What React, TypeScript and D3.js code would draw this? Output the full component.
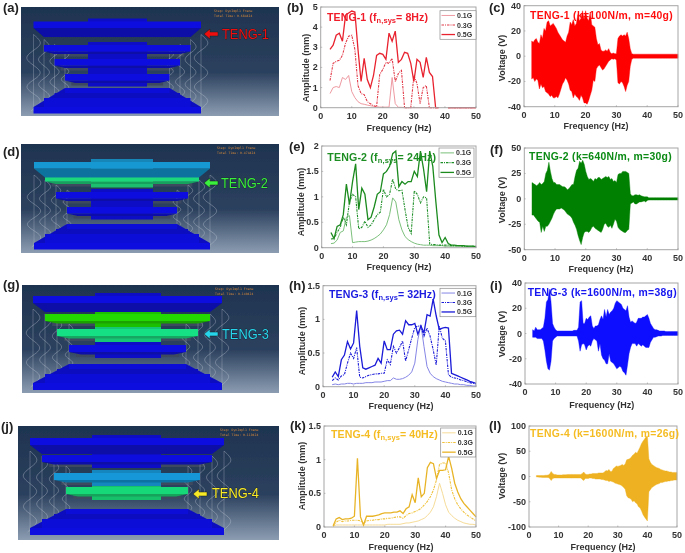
import React from "react";
import * as d3 from "d3";

const freqs = d3.range(3, 51);
const vFreqs = d3.range(2.5, 50.5, 0.5);
const amps = ["0.1G", "0.3G", "0.5G"];

const b01 = [.7,1,1.05,1,1.5,1.4,1.6,.8,.5,.3,.2,.17,.13,.1,.07,.05,.03,.03,.03,.03,1.5,.2,.02,.02,0,0,0,0,0,0,0,0,0,0,0,0,null,null,0,0,0,0,0,0,0,0,0,0];
const b03 = [1.35,2.2,2.3,2.35,2.6,3.2,3.55,3.6,2.9,1.1,.7,.65,.3,.2,.1,.05,1.65,1.9,2.25,2.2,2.45,1.3,1.7,1.85,0,0,0,1.6,1.2,.2,1,1.1,0,0,0,0,null,null,0,0,0,0,0,0,0,0,0,0];
const b05 = [2.9,3.1,3.6,3.7,3.3,4.6,4.7,4.8,4.75,2.9,1.3,2.45,1.4,1,1.6,2.6,2.7,2.65,2.4,3.7,3.3,3.8,2.25,2.4,2.75,2.7,2.2,1.3,2.4,2.25,1.5,2.5,1.75,1.55,0,0,null,null,0,0,0,0,0,0,0,0,0,0];

const e01 = [.08,.09,.15,.3,.33,.6,.63,.1,.11,.12,.12,.12,.13,.15,.18,.22,.27,.35,.45,.65,.98,.9,.55,.35,.22,.16,.12,.09,.07,.06,.05,.05,.05,.04,.04,.04,.04,.03,.03,.03,.03,.03,.03,.02,.02,.02,.02,.02];
const e03 = [.17,.18,.3,.4,.6,.45,.9,1.05,1,.37,.4,.52,.4,.45,.55,.65,.7,1.15,1,1.05,1.35,1.15,1.12,1.13,.75,.4,.28,1.12,1.05,.88,1,.98,.07,.06,.06,.05,.05,.05,.05,.04,.04,.04,.04,.03,.03,.03,.03,.03];
const e05 = [.3,.18,.42,.45,.65,1.25,.85,1.3,1.65,.75,1.17,1.05,.55,.6,.8,1.05,1.1,1.45,1.5,1.6,1.85,1.9,1.2,1.3,1.25,1.3,1.3,1.5,1.4,1.9,1.55,1.1,1.9,1.6,.9,.25,.1,.2,.08,.05,.05,.04,.04,.04,.03,.03,.03,.02];

const h01 = [.03,.04,.03,.04,.04,.05,.05,.04,.05,.05,.05,.06,.06,.06,.07,.07,.07,.08,.09,.09,.13,.11,.11,.12,.14,.17,.22,.35,.7,.92,.6,.3,.2,.15,.12,.1,.08,.07,.06,.05,.04,.04,.03,.03,.02,.02,.01,.01];
const h03 = [.09,.13,.1,.16,.18,.35,.5,.42,.58,.14,.13,.15,.17,.18,.19,.19,.2,.2,.4,.33,.6,.5,.58,.68,.38,.55,.72,.88,.9,.9,.75,.87,.75,.55,.32,.9,.72,.68,.18,.14,.13,.12,.1,.09,.07,.06,.05,.04];
const h05 = [.14,.22,.15,.4,.47,.67,.56,.65,1.13,.6,.28,.26,.28,.3,.32,.42,.35,.68,.55,.55,.78,.83,.84,.78,.98,.92,.92,.94,.78,.9,.8,1.07,1.05,1.3,1.05,.85,.87,.88,.87,.2,.18,.16,.14,.12,.1,.08,.065,.05];

const k01 = [.01,.03,.03,.03,.03,.03,.03,.03,.03,.03,.03,.03,.03,.03,.03,.03,.03,.03,.04,.04,.04,.04,.04,.05,.06,.06,.07,.08,.09,.11,.13,.17,.22,.3,.45,.65,.5,.33,.22,.17,.13,.1,.08,.06,.05,.04,.04,.03];
const k03 = [.01,.07,.1,.08,.09,.09,.1,.1,.1,.09,.05,.09,.1,.1,.11,.11,.12,.12,.13,.13,.14,.15,.15,.13,.17,.2,.21,.23,.25,.28,.33,.38,.45,.55,.7,.93,.95,.95,.8,.55,.42,.33,.27,.22,.18,.15,.12,.09];
const k05 = [.02,.12,.14,.11,.12,.12,.13,.16,1.02,.15,.03,.16,.16,.16,.17,.18,.2,.21,.21,.21,.22,.22,.24,.2,.27,.3,.48,.36,.73,.45,.5,.88,.96,.94,.72,.84,.84,.85,1.05,.87,.65,.52,.42,.35,.3,.25,.2,.15];

const cUp = [12,11,13,14,11,10,17,14,22,20,27,28,24,25,26,24,22,19,17,15,13,12,11,16,19,27,25,29,24,26,33,28,30,36,29,36,30,28,35,25,24,23,14,9,10,5,4,4,5,4,6,3,2,2.5,2,2,14,16,17,16,17,16,19,14,6,2,1.6,1.6,1.6,1.6,1.6,1.6,1.6,1.6,1.6,1.6,1.6,1.6,1.6,1.6,1.6,1.6,1.6,1.6,1.6,1.6,1.6,1.6,1.6,1.6,1.6,1.6,1.6,1.6,1.6,1.6];
const cLo = [-18,-17,-20,-18,-19,-26,-22,-25,-24,-28,-29,-30,-32,-31,-33,-33,-32,-33,-30,-26,-22,-20,-17,-19,-22,-27,-28,-33,-30,-32,-33,-35,-31,-33,-37,-37,-38,-35,-31,-27,-19,-20,-10,-8,-7,-9,-11,-10,-8,-6,-4,-3,-2,-2.5,-2,-3,-21,-22,-20,-21,-24,-28,-23,-20,-8,-2.5,-1.6,-1.6,-1.6,-1.6,-1.6,-1.6,-1.6,-1.6,-1.6,-1.6,-1.6,-1.6,-1.6,-1.6,-1.6,-1.6,-1.6,-1.6,-1.6,-1.6,-1.6,-1.6,-1.6,-1.6,-1.6,-1.6,-1.6,-1.6,-1.6,-1.6];

const fUp = [16,15,14,13,14,16,14,15,17,25,28,36,27,20,16,16,14,14,14,13,12,12,11,9,10,12,14,14,22,28,30,37,35,38,34,27,22,19,20,19,17,20,19,21,21,19,20,21,22,21,22,19,20,17,18,16,24,25,25,27,27,27,26,25,5,3,3,4,4,3.5,4,3,2.5,2,2,2,1,1.2,1.2,1.2,1.2,1.2,1.2,1.2,1.2,1.2,1.2,1.2,1.2,1.2,1.2,1.2,1.2,1.2,1.2,1.2];
const fLo = [-16,-16,-18,-20,-22,-23,-33,-27,-32,-27,-27,-25,-22,-19,-15,-12,-10,-10,-10,-9,-10,-11,-13,-15,-16,-17,-19,-23,-26,-30,-36,-41,-45,-38,-33,-32,-32,-33,-31,-28,-27,-29,-30,-31,-32,-33,-30,-25,-24,-27,-28,-26,-29,-25,-20,-22,-28,-30,-31,-32,-33,-33,-31,-30,-5,-4,-3,-5,-5,-4,-3,-3,-2.5,-2,-3,-1.5,-1.2,-1.2,-1.2,-1.2,-1.2,-1.2,-1.2,-1.2,-1.2,-1.2,-1.2,-1.2,-1.2,-1.2,-1.2,-1.2,-1.2,-1.2,-1.2,-1.2];

const iUp = [3,2,5,3,3,3,4,5,12,25,27,35,25,8,5,3,2,2,2,2,2,2,2,2,2,2,2,2.5,2.5,2.5,5,25,26,8,8,12,11,13,14,6,4,6,6,7,11,14,11,19,13,19,15,17,18,20,24,26,25,24,23,20,19,18,22,13,9,10,9,8,9,12,12,12,13,13,14,15,12,8,6,4,3,3,2.5,2,2,2,2,1.5,1.5,1.5,1.5,1.5,1.5,1.5,1.5,1.5];
const iLo = [-3,-3,-3,-4,-4,-4,-4,-6,-13,-22,-28,-29,-22,-6,-4,-3,-2,-2,-2,-2,-2,-2,-2,-2,-2,-2,-2,-2,-2,-2,-6,-14,-9,-8,-9,-13,-10,-9,-10,-6,-4,-5,-6,-14,-8,-17,-20,-21,-24,-24,-16,-22,-23,-24,-26,-28,-27,-26,-27,-30,-31,-33,-25,-16,-11,-8,-8,-8,-10,-8,-9,-10,-9,-10,-11,-11,-11,-7,-5,-3,-3,-2.5,-2,-2,-2,-1.5,-1.5,-1.5,-1.5,-1.5,-1.5,-1.5,-1.5,-1.5,-1.5,-1.5];

const lUp = [2,2,2,2,2,2,2.5,2.5,3,5,10,6,4,4,3,3,3,3,3.5,3.5,3.5,4,4,4,4,4,4,4,4,4,4,6,9,5,4,4,5,5,6,6,6,6,7,7,7,7,9,12,11,14,10,10,16,18,21,20,21,22,24,22,25,33,34,35,38,42,44,48,46,52,58,65,70,74,78,80,35,28,24,22,20,18,17,16,14,13,12,11,11,10,9,9,8,8,8,8];
const lLo = [-1,-1,-1.5,-1.5,-2,-2,-2,-2,-2,-4,-8,-4,-3,-3,-3,-3,-3,-3,-3,-3,-3,-3,-3,-3,-3,-3,-3,-3,-3,-3,-3,-6,-8,-4,-4,-4,-3,-3,-4,-4,-5,-5,-5,-5,-6,-6,-7,-8,-8,-10,-9,-10,-11,-13,-14,-15,-16,-17,-19,-22,-25,-38,-42,-43,-45,-50,-48,-52,-54,-60,-62,-68,-75,-80,-84,-88,-30,-26,-22,-20,-18,-16,-15,-14,-12,-12,-11,-10,-10,-9,-9,-8,-8,-7,-7,-7];

const springWave = [0, .7, 1, .3, -.6, -1, -.4, .5, 1, .5, -.5, -1, -.4, .6, 1, .4, -.3];

const FONT = "'Liberation Sans', Arial, sans-serif";

function LinePanel({ box, yMax, yTicks, series, colors, title, tx, tEnd, tBase, xLab, yLab, legend }: any) {
  const [x0, x1, yT, yB] = box;
  const x = d3.scaleLinear().domain([0, 50]).range([x0, x1]);
  const y = d3.scaleLinear().domain([0, yMax]).range([yB, yT]);
  const line = d3.line<number | null>().defined((d) => d !== null).x((_, i) => x(freqs[i])).y((d) => y(d as number));
  const styles = [
    { w: 1, dash: undefined },
    { w: 1.1, dash: "2.5 1 1 1" },
    { w: 1.3, dash: undefined },
  ];
  const [lx0, lx1, ly0, ly1] = legend;
  const lh = (ly1 - ly0) / 3;
  return (
    <g>
      {series.map((s: any, i: number) => (
        <path key={i} d={line(s) || ""} fill="none" stroke={colors[i]} strokeWidth={styles[i].w} strokeDasharray={styles[i].dash} />
      ))}
      <rect x={x0} y={yT} width={x1 - x0} height={yB - yT} fill="none" stroke="#a6a6a6" strokeWidth={1} />
      {x.ticks(5).map((t) => (
        <g key={t}>
          <line x1={x(t)} x2={x(t)} y1={yB} y2={yB - 1.5} stroke="#888" strokeWidth={0.5} />
          <text x={x(t)} y={yB + 11} textAnchor="middle" fontSize={9} fontWeight="bold" fill="#333">{t}</text>
        </g>
      ))}
      {yTicks.map((t: number) => (
        <g key={t}>
          <line x1={x0} x2={x0 + 1.5} y1={y(t)} y2={y(t)} stroke="#888" strokeWidth={0.5} />
          <text x={x0 - 3} y={y(t) + 3} textAnchor="end" fontSize={9} fontWeight="bold" fill="#333">{t}</text>
        </g>
      ))}
      <text x={xLab[0]} y={xLab[1]} textAnchor="middle" fontSize={9} fontWeight="bold" fill="#333">Frequency (Hz)</text>
      <text transform={`translate(${yLab[0]},${yLab[1]}) rotate(-90)`} textAnchor="middle" fontSize={9} fontWeight="bold" fill="#333">Amplitude (mm)</text>
      <text x={tx} y={tBase} fontSize={10.6} fontWeight="bold" fill={title.color} textLength={tEnd - tx} lengthAdjust="spacing">
        {title.head} (f
        <tspan dy={2} fontSize={7.5}>n,sys</tspan>
        <tspan dy={-2}>= {title.tail}</tspan>
      </text>
      <rect x={lx0} y={ly0} width={lx1 - lx0} height={ly1 - ly0} fill="#fff" stroke="#8c8c8c" strokeWidth={0.7} />
      {amps.map((a, i) => (
        <g key={a}>
          <line x1={lx0 + 1.5} x2={lx0 + 15} y1={ly0 + lh * (i + 0.5)} y2={ly0 + lh * (i + 0.5)} stroke={colors[i]} strokeWidth={styles[i].w} strokeDasharray={styles[i].dash} />
          <text x={lx0 + 17} y={ly0 + lh * (i + 0.5) + 2.5} fontSize={7} fontWeight="bold" fill="#333">{a}</text>
        </g>
      ))}
    </g>
  );
}

function VoltPanel({ box, yMax, yTicks, up, lo, color, title, titleColor, tx, tEnd, tBase, xLab, yLab }: any) {
  const [x0, x1, yT, yB] = box;
  const x = d3.scaleLinear().domain([0, 50]).range([x0, x1]);
  const y = d3.scaleLinear().domain([-yMax, yMax]).range([yB, yT]);
  const area = d3.area<number>().x((_, i) => x(vFreqs[i])).y0((_, i) => y(lo[i])).y1((d) => y(d));
  return (
    <g>
      <path d={area(up) || ""} fill={color} stroke={color} strokeWidth={0.4} />
      <rect x={x0} y={yT} width={x1 - x0} height={yB - yT} fill="none" stroke="#a6a6a6" strokeWidth={1} />
      {x.ticks(5).map((t) => (
        <g key={t}>
          <line x1={x(t)} x2={x(t)} y1={yB} y2={yB - 1.5} stroke="#888" strokeWidth={0.5} />
          <text x={x(t)} y={yB + 11} textAnchor="middle" fontSize={9} fontWeight="bold" fill="#333">{t}</text>
        </g>
      ))}
      {yTicks.map((t: number) => (
        <g key={t}>
          <line x1={x0} x2={x0 + 1.5} y1={y(t)} y2={y(t)} stroke="#888" strokeWidth={0.5} />
          <text x={x0 - 3} y={y(t) + 3} textAnchor="end" fontSize={9} fontWeight="bold" fill="#333">{t}</text>
        </g>
      ))}
      <text x={xLab[0]} y={xLab[1]} textAnchor="middle" fontSize={9} fontWeight="bold" fill="#333">Frequency (Hz)</text>
      <text transform={`translate(${yLab[0]},${yLab[1]}) rotate(-90)`} textAnchor="middle" fontSize={9} fontWeight="bold" fill="#333">Voltage (V)</text>
      <text x={tx} y={tBase} fontSize={10.4} fontWeight="bold" fill={titleColor} textLength={tEnd - tx} lengthAdjust="spacing">{title}</text>
    </g>
  );
}

function Schematic({ id, bg, L, R, step, ys, ph, cols, cl, cr, by, time, tx, arrow, label }: any) {
  const [bx0, by0, bx1, by1] = bg;
  const wave = (cx: number, amp: number, top: number, bot: number) => {
    const yy = d3.scaleLinear().domain([0, springWave.length - 1]).range([top, bot]);
    return d3.line<number>().curve(d3.curveBasis).x((d) => cx + d * amp).y((_, i) => yy(i))(springWave) || "";
  };
  const dark = (c: string, k: number) => d3.color(c)!.darker(k).formatHex();
  const rows = [3, 2, 1, 0];
  const sideCols = [0, 1, 2, 3];
  return (
    <g>
      <defs>
        <linearGradient id={id} x1="0" y1="0" x2="0" y2="1">
          <stop offset="0" stopColor="#1e3350" />
          <stop offset="0.6" stopColor="#2c415e" />
          <stop offset="1" stopColor="#8c9db2" />
        </linearGradient>
      </defs>
      <rect x={bx0} y={by0} width={bx1 - bx0} height={by1 - by0} fill={`url(#${id})`} />
      {rows.map((i) => {
        if (i === 0) return null;
        const l = L + i * step;
        const r = R - i * step;
        const y = ys[i];
        return <rect key={i} x={l + step * 0.6} y={y + ph} width={r - l - step * 1.2} height={5} fill="#3c4a5e" />;
      })}
      {sideCols.map((i) => {
        const amp = [8, 6.5, 5.5, 4.5][i];
        const top = ys[0] + 13 + i * 5;
        const bot = by + 4 - i * 6;
        return (
          <g key={i} fill="none" stroke="#c8d0dc" strokeWidth={0.45} opacity={0.8}>
            <path d={wave(L + i * step, amp, top, bot)} />
            <path d={wave(R - i * step, amp, top, bot)} />
            <line x1={L + i * step} x2={L + i * step} y1={top} y2={bot} strokeWidth={0.5} opacity={0.7} />
            <line x1={R - i * step} x2={R - i * step} y1={top} y2={bot} strokeWidth={0.5} opacity={0.7} />
          </g>
        );
      })}
      {rows.map((i) => {
        const l = L + i * step;
        const r = R - i * step;
        const y = ys[i];
        const tz = i === 0 ? 9 : 2.5;
        return (
          <g key={i}>
            <rect x={cl} y={y - 3} width={cr - cl} height={ph + 9} fill={dark(cols[i], 0.35)} />
            <path d={`M${l},${y + ph}L${r},${y + ph}L${r - step},${y + ph + tz}L${l + step},${y + ph + tz}Z`} fill={dark(cols[i], 0.8)} />
            <rect x={l} y={y} width={r - l} height={ph} fill={cols[i]} />
          </g>
        );
      })}
      <path d={`M${L},${by}L${L + 3 * step},${by - 19}L${R - 3 * step},${by - 19}L${R},${by}Z`} fill="#0a0fc0" />
      <rect x={L + 3 * step} y={by - 19} width={R - L - 6 * step} height={5} fill="#0c10d8" />
      <rect x={L + 2 * step} y={by - 14} width={R - L - 4 * step} height={5} fill="#0a0ec0" />
      <rect x={L + step} y={by - 9} width={R - L - 2 * step} height={9} fill="#0c10d8" />
      <rect x={L} y={by} width={R - L} height={ph} fill="#0c0ee0" />
      <text x={tx} y={by0 + 5} fontSize={3.2} fill="#d88a3a" fontFamily="'DejaVu Sans Mono', monospace">Step: DynImpl1  Frame</text>
      <text x={tx} y={by0 + 10} fontSize={3.2} fill="#d88a3a" fontFamily="'DejaVu Sans Mono', monospace">{time}</text>
      <path d={`M${arrow.x},${arrow.y}l6,-5v3h8v4h-8v3z`} fill={label.color} stroke="#1a1a1a" strokeWidth={0.5} />
      <text x={label.x} y={label.y} fontSize={15.5} fill={label.color} stroke="#111" strokeWidth={0.7} strokeOpacity={0.85} paintOrder="stroke" textLength={47} lengthAdjust="spacingAndGlyphs">{label.text}</text>
    </g>
  );
}

const BLUE = "#0b0fe0";

export default function App() {
  const labels: [string, number, number][] = [
    ["(a)", 3, 12], ["(b)", 287, 12], ["(c)", 489, 12],
    ["(d)", 3, 156], ["(e)", 289, 151], ["(f)", 490, 154],
    ["(g)", 3, 289], ["(h)", 289, 290], ["(i)", 490, 290],
    ["(j)", 1, 431], ["(k)", 290, 430], ["(l)", 489, 430],
  ];
  const redC = ["#ee9aa2", "#e23a48", "#e8222e"];
  const greenC = ["#7cc07c", "#1f8f28", "#1a8a1e"];
  const blueC = ["#8585e6", "#1c1cd8", "#1a1ad8"];
  const yelC = ["#f6dc98", "#f0c23c", "#e8b428"];
  return (
    <svg width={685} height={553} viewBox="0 0 685 553" fontFamily={FONT} style={{ position: "absolute", left: 0, top: 0, background: "#fff" }}>
      <defs>
        <filter id="soft" x="0" y="0" width="100%" height="100%">
          <feGaussianBlur stdDeviation="0.35" />
        </filter>
      </defs>
      <g filter="url(#soft)">
        <rect width={685} height={553} fill="#fff" />
        <Schematic id="s1" bg={[21, 7, 279, 116]} L={33.5} R={201} step={10.5} ys={[21.5, 45, 59, 74]} ph={6.5}
          cols={[BLUE, BLUE, BLUE, BLUE]} cl={88} cr={147} by={107} tx={214} time="Total Time: 0.684424"
          arrow={{ x: 204, y: 34 }} label={{ x: 222, y: 39, text: "TENG-1", color: "#f01010" }} />
        <Schematic id="s2" bg={[21, 144, 279, 253]} L={34} R={210} step={11} ys={[162, 175, 192, 207]} ph={6.5}
          cols={["#1498d2", "#1ed87c", BLUE, BLUE]} cl={91} cr={153} by={243} tx={217} time="Total Time: 0.474424"
          arrow={{ x: 204, y: 183 }} label={{ x: 221, y: 188, text: "TENG-2", color: "#38f03c" }} />
        <Schematic id="s3" bg={[22, 285, 279, 393]} L={33} R={222} step={12} ys={[296, 314, 329, 345]} ph={7}
          cols={[BLUE, "#22d800", "#18e084", BLUE]} cl={95} cr={161} by={383} tx={215} time="Total Time: 0.140424"
          arrow={{ x: 204, y: 334 }} label={{ x: 222, y: 339, text: "TENG-3", color: "#28d4ec" }} />
        <Schematic id="s4" bg={[18, 426, 279, 540]} L={30} R={224} step={12} ys={[438, 455, 473, 487]} ph={7}
          cols={[BLUE, BLUE, "#1498d8", "#18d878"]} cl={92} cr={161} by={528} tx={220} time="Total Time: 0.119424"
          arrow={{ x: 193, y: 494 }} label={{ x: 212, y: 498, text: "TENG-4", color: "#f8ea28" }} />

        <LinePanel box={[320.7, 476, 7, 107.7]} yMax={5} yTicks={[0, 1, 2, 3, 4, 5]} series={[b01, b03, b05]} colors={redC}
          title={{ head: "TENG-1", tail: "8Hz)", color: "#f01c2a" }} tx={327} tEnd={428} tBase={21}
          xLab={[399, 131]} yLab={[309, 68]} legend={[440, 476, 10.7, 39.3]} />
        <LinePanel box={[321.7, 476, 146, 247.7]} yMax={2} yTicks={[0, .5, 1, 1.5, 2]} series={[e01, e03, e05]} colors={greenC}
          title={{ head: "TENG-2", tail: "24Hz)", color: "#1e8e24" }} tx={327.3} tEnd={436} tBase={161}
          xLab={[399, 270]} yLab={[304, 202]} legend={[439, 474, 148, 177.3]} />
        <LinePanel box={[323, 476, 285.7, 386.7]} yMax={1.5} yTicks={[0, .5, 1, 1.5]} series={[h01, h03, h05]} colors={blueC}
          title={{ head: "TENG-3", tail: "32Hz)", color: "#1a1ae0" }} tx={329} tEnd={435.7} tBase={298}
          xLab={[401, 409]} yLab={[305, 341]} legend={[440, 475.7, 288.3, 316.7]} />
        <LinePanel box={[324, 476, 426, 527]} yMax={1.5} yTicks={[0, .5, 1, 1.5]} series={[k01, k03, k05]} colors={yelC}
          title={{ head: "TENG-4", tail: "40Hz)", color: "#f5bc24" }} tx={331} tEnd={437.7} tBase={438}
          xLab={[401, 550]} yLab={[305, 476]} legend={[440.7, 475.7, 428, 457]} />

        <VoltPanel box={[524, 678, 5.7, 106.7]} yMax={40} yTicks={[-40, -20, 0, 20, 40]} up={cUp} lo={cLo} color="#ff0000"
          title="TENG-1 (k=100N/m, m=40g)" titleColor="#ff1010" tx={530} tEnd={672.7} tBase={19} xLab={[596, 129]} yLab={[505, 58]} />
        <VoltPanel box={[524.3, 678, 148, 249.7]} yMax={50} yTicks={[-50, -25, 0, 25, 50]} up={fUp} lo={fLo} color="#008000"
          title="TENG-2 (k=640N/m, m=30g)" titleColor="#0a8a14" tx={529} tEnd={671.7} tBase={160} xLab={[601, 271.7]} yLab={[505, 200]} />
        <VoltPanel box={[525, 678, 283, 384]} yMax={40} yTicks={[-40, -20, 0, 20, 40]} up={iUp} lo={iLo} color="#0a0aff"
          title="TENG-3 (k=1600N/m, m=38g)" titleColor="#1414f0" tx={527.7} tEnd={676.7} tBase={296} xLab={[601.7, 407.7]} yLab={[505, 334]} />
        <VoltPanel box={[529, 677, 426, 527]} yMax={100} yTicks={[-100, -50, 0, 50, 100]} up={lUp} lo={lLo} color="#edb120"
          title="TENG-4 (k=1600N/m, m=26g)" titleColor="#f5bc24" tx={530} tEnd={679} tBase={437.3} xLab={[603, 550]} yLab={[505, 476]} />

        {labels.map(([t, x, y]) => (
          <text key={t} x={x} y={y} fontSize={13} fontWeight="bold" fill="#222">{t}</text>
        ))}
      </g>
    </svg>
  );
}
